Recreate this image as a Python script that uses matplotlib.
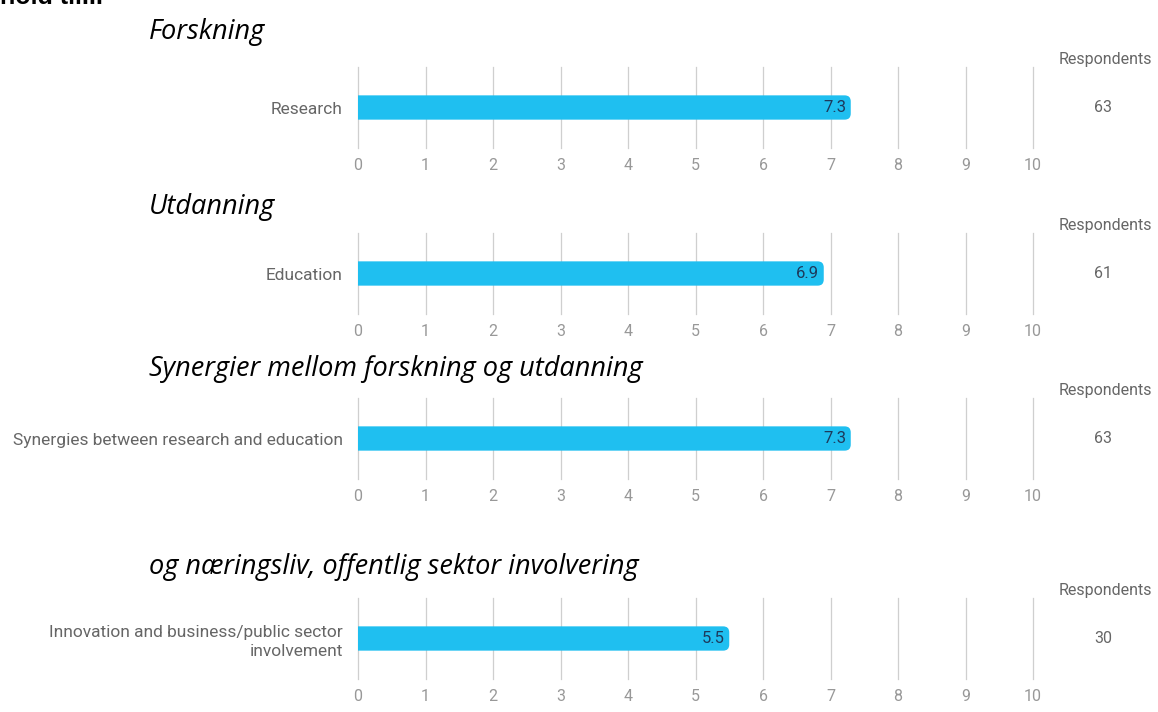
import matplotlib.pyplot as plt
from matplotlib.patches import FancyBboxPatch

# Data
headings = ['Forskning', 'Utdanning', 'Synergier mellom forskning og utdanning',
            'og næringsliv, offentlig sektor involvering']
categories = ['Research', 'Education', 'Synergies between research and education',
              'Innovation and business/public sector\ninvolvement']
scores = [7.3, 6.9, 7.3, 5.5]
respondents = [63, 61, 63, 30]
ticks = list(range(11))

W, H = 1158, 712
fig = plt.figure(figsize=(W / 100, H / 100), dpi=100)
fig.patch.set_facecolor('white')

BAR = '#1fbff0'
GRID = '#cfcfcf'
TXT = '#666666'

# (gridline top, gridline bottom, heading baseline) in pixels
panels = [(67, 148, 39), (233, 314, 214), (398, 479, 376), (598, 679, 574)]


def rect(x0, y0, x1, y1):
    return [x0 / W, 1 - y1 / H, (x1 - x0) / W, (y1 - y0) / H]


fig.text(0.0, 1 - 4 / H, 'hold til...', fontsize=18, fontweight='bold',
         family='Liberation Sans', va='baseline', ha='left')

for i, (top, bot, hy) in enumerate(panels):
    ax = fig.add_axes(rect(358, top, 1033, bot))
    ax.set_xlim(0, 10)
    ax.set_ylim(-1, 1)
    for s in ax.spines.values():
        s.set_visible(False)
    ax.set_xticks(ticks)
    ax.set_xticklabels([str(t) for t in ticks], family='Roboto', fontsize=11.5, color='#989898')
    ax.set_yticks([0])
    ax.set_yticklabels([categories[i]], family='Roboto', fontsize=12.5, color=TXT,
                       ha='right', linespacing=1.3)
    ax.tick_params(axis='x', length=0, pad=7)
    ax.tick_params(axis='y', length=0, pad=11)
    ax.grid(axis='x', color=GRID, lw=0.9, clip_on=False)
    ax.set_axisbelow(True)

    bars = ax.barh([0], [scores[i]], height=0.6, color='none')
    for b in bars:
        x0, y0 = b.get_x(), b.get_y()
        w, h = b.get_width(), b.get_height()
        # rounded right end; left end is clipped at the axis
        patch = FancyBboxPatch((x0 - 0.3, y0), w + 0.3, h,
                               boxstyle='round,pad=0,rounding_size=0.09',
                               mutation_aspect=67.5 / 40.5,
                               facecolor=BAR, edgecolor='none', zorder=3)
        ax.add_patch(patch)
    ax.text(scores[i] - 0.07, 0, f'{scores[i]}', ha='right', va='center',
            family='Roboto', fontsize=12, color='#1d3a5c', zorder=4)

    ax.text(1.107, 1.09, 'Respondents', transform=ax.transAxes, ha='center', va='center',
            family='Roboto', fontsize=11.5, color=TXT, clip_on=False)
    ax.text(1.104, 0.5, str(respondents[i]), transform=ax.transAxes, ha='center', va='center',
            family='Roboto', fontsize=11.5, color=TXT, clip_on=False)

    fig.text(149 / W, 1 - hy / H, headings[i], fontsize=19.5, style='italic',
             family='Open Sans', ha='left', va='baseline')

fig.savefig('out.png', dpi=100)
